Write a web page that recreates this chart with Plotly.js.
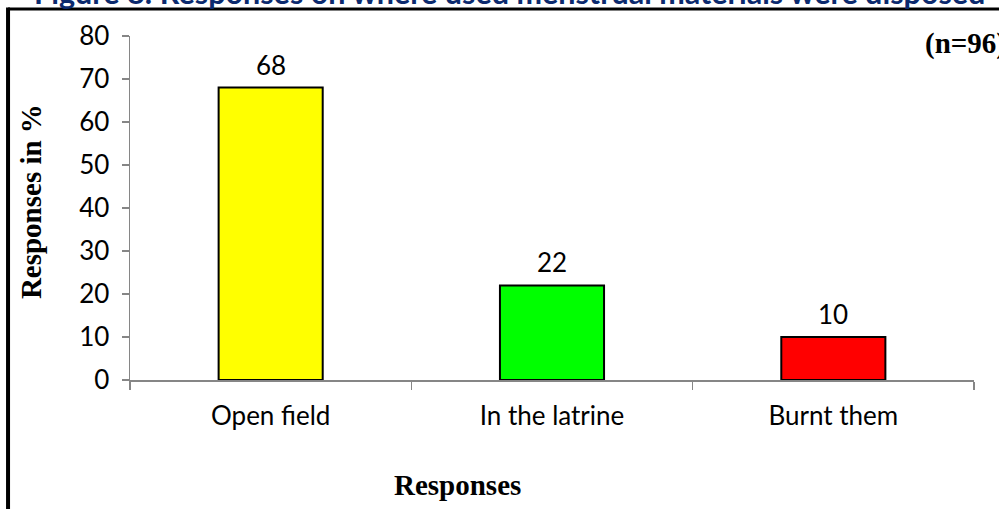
<!DOCTYPE html>
<html>
<head>
<meta charset="utf-8">
<script src="https://cdn.plot.ly/plotly-3.0.1.min.js"></script>
<style>
  html, body { margin: 0; padding: 0; background: #fff; }
  #chart { width: 999px; height: 509px; }
</style>
</head>
<body>
<div id="chart"></div>
<script>
// Where used menstrual materials were disposed (percent of respondents)
const categories = ['Open field', 'In the latrine', 'Burnt them'];
const percentages = [68, 22, 10];
const barColors = ['#FFFF00', '#00FF00', '#FF0000'];
const yTicks = [0, 10, 20, 30, 40, 50, 60, 70, 80];

const chartTitle = 'Figure 8: Responses on where used menstrual materials were disposed';
const sampleNote = '(n=96)';
const xTitle = 'Responses';
const yTitle = 'Responses in %';

const sansFont = 'Lato, "Open Sans", sans-serif';
const serifFont = '"Liberation Serif", "Times New Roman", serif';
const axisGrey = '#868686';

const trace = {
  type: 'bar',
  x: categories,
  y: percentages,
  width: 0.37,
  marker: { color: barColors, line: { color: '#000000', width: 2 } },
  hoverinfo: 'skip'
};

// value labels above each bar
const valueLabels = categories.map((c, i) => ({
  x: c, y: percentages[i], xref: 'x', yref: 'y',
  text: String(percentages[i]), showarrow: false,
  yanchor: 'middle', yshift: 23,
  font: { family: sansFont, size: 26, color: '#000000' }
}));

const layout = {
  width: 999,
  height: 509,
  margin: { l: 130, r: 25, t: 36, b: 129 },
  paper_bgcolor: '#ffffff',
  plot_bgcolor: '#ffffff',
  showlegend: false,
  xaxis: {
    type: 'category',
    range: [-0.5, 2.5],
    showline: true, linecolor: axisGrey, linewidth: 1.5,
    ticks: 'outside', tickson: 'boundaries', ticklen: 8, tickcolor: axisGrey, tickwidth: 1.5,
    ticklabelstandoff: 12,
    showgrid: false, zeroline: false,
    tickfont: { family: sansFont, size: 26, color: '#000000' }
  },
  yaxis: {
    range: [0, 80],
    tickvals: yTicks,
    showline: true, linecolor: axisGrey, linewidth: 1.5,
    ticks: 'outside', ticklen: 7, tickcolor: axisGrey, tickwidth: 1.5,
    ticklabelstandoff: 7,
    showgrid: false, zeroline: false,
    tickfont: { family: sansFont, size: 26, color: '#000000' }
  },
  annotations: valueLabels.concat([
    {
      text: chartTitle, xref: 'paper', yref: 'paper',
      x: 0.4502, y: 1.0785, xanchor: 'center', yanchor: 'bottom', yshift: -3,
      showarrow: false,
      font: { family: sansFont, size: 30.5, color: '#0B2A6E', weight: 'bold' }
    },
    {
      text: '<b>' + sampleNote + '</b>', xref: 'paper', yref: 'paper',
      x: 0.9396, y: 0.977, xanchor: 'left', yanchor: 'middle',
      showarrow: false,
      font: { family: serifFont, size: 29, color: '#000000' }
    },
    {
      text: '<b>' + xTitle + '</b>', xref: 'paper', yref: 'paper',
      x: 0.3886, y: -0.305, xanchor: 'center', yanchor: 'middle',
      showarrow: false,
      font: { family: serifFont, size: 29, color: '#000000' }
    },
    {
      text: '<b>' + yTitle + '</b>', xref: 'paper', yref: 'paper',
      x: -0.1173, y: 0.52, xanchor: 'center', yanchor: 'middle',
      textangle: -90, showarrow: false,
      font: { family: serifFont, size: 29, color: '#000000' }
    }
  ]),
  shapes: [
    // frame: heavy black rule along the top and down the left side
    { type: 'line', xref: 'paper', yref: 'paper', x0: -0.1445, x1: 1.05, y0: 1.0785, y1: 1.0785,
      line: { color: '#000000', width: 3 } },
    { type: 'line', xref: 'paper', yref: 'paper', x0: -0.1445, x1: -0.1445, y0: 1.0829, y1: -0.40,
      line: { color: '#000000', width: 4 } }
  ]
};

Plotly.newPlot('chart', [trace], layout, { staticPlot: true, displayModeBar: false });
</script>
</body>
</html>
